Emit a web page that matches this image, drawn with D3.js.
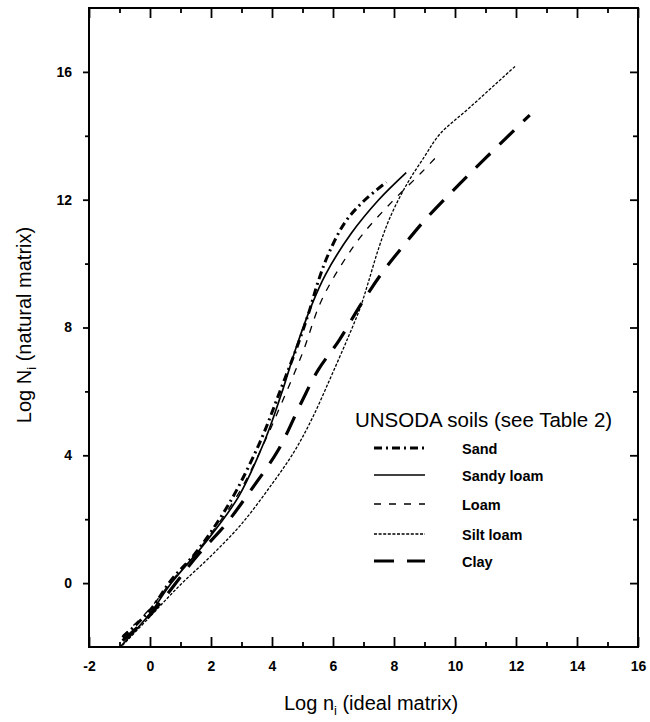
<!DOCTYPE html>
<html>
<head>
<meta charset="utf-8">
<script src="https://cdn.jsdelivr.net/npm/d3@7"></script>
<style>
  body { margin: 0; background: #fff; }
  text { font-family: "Liberation Sans", Arial, sans-serif; fill: #000; }
</style>
</head>
<body>
<div id="chart"></div>
<script>
// Data (log n_i, log N_i)
const sand = [[-0.9,-1.7],[0,-0.85],[0.7,0.1],[1.5,0.95],[2.6,2.5],[3.6,4.4],[4.3,6.1],[4.9,7.6],[5.25,8.6],[5.5,9.4],[5.85,10.3],[6.4,11.3],[7.0,11.95],[7.75,12.55]];
const sandyLoam = [[-0.98,-2],[0,-0.95],[0.7,0.0],[1.8,1.25],[2.9,2.7],[3.77,4.48],[4.3,5.9],[4.8,7.4],[5.3,8.7],[5.75,9.65],[6.6,10.95],[7.5,12.0],[8.4,12.85]];
const loam = [[-0.9,-1.65],[0,-0.8],[0.7,0.05],[1.8,1.3],[2.9,2.8],[3.77,4.45],[4.3,5.6],[5.0,7.2],[5.6,8.8],[6.3,10.0],[7.0,10.95],[7.9,11.9],[8.9,12.85],[9.4,13.35]];
const siltLoam = [[-0.9,-1.95],[0,-1.05],[1,-0.05],[2,0.85],[3,1.85],[4,3.1],[4.75,4.15],[5.34,5.2],[5.93,6.45],[6.5,7.7],[6.9,8.64],[7.15,9.39],[7.48,10.43],[7.85,11.4],[8.4,12.45],[9.0,13.35],[9.5,14.05],[10.5,14.9],[12.0,16.2]];
const clay = [[-0.9,-1.8],[0,-1.0],[1.57,0.88],[2.45,1.8],[3.3,2.9],[4.2,4.16],[4.95,5.63],[5.5,6.65],[6.2,7.6],[6.9,8.7],[7.6,9.7],[8.3,10.55],[9.0,11.35],[10.0,12.35],[11.0,13.3],[12.45,14.65]];

const seriesNames = ["Sand", "Sandy loam", "Loam", "Silt loam", "Clay"];
const seriesData = [sand, sandyLoam, loam, siltLoam, clay];
const xTicks = [-2, 0, 2, 4, 6, 8, 10, 12, 14, 16];
const yTicks = [0, 4, 8, 12, 16];

// line styles per series
const styles = [
  { dash: "8,4,2,4", w: 3 },
  { dash: null, w: 1.7 },
  { dash: "7,8", w: 1.3 },
  { dash: "3,1.6", w: 1.3 },
  { dash: "20,13", w: 3.2 }
];

const margin = { top: 8, right: 12, bottom: 75, left: 89 };
const width = 650 - margin.left - margin.right;
const height = 722 - margin.top - margin.bottom;

const svg = d3.select("#chart")
  .append("svg")
  .attr("width", 650)
  .attr("height", 722)
  .append("g")
  .attr("transform", `translate(${margin.left},${margin.top})`);

const x = d3.scaleLinear().domain([-2, 16]).range([0, width]);
const y = d3.scaleLinear().domain([-2, 18]).range([height, 0]);

// frame
svg.append("rect")
  .attr("width", width).attr("height", height)
  .attr("fill", "none").attr("stroke", "#000").attr("stroke-width", 2);

// bottom axis: ticks inward
const axBottom = svg.append("g")
  .attr("transform", `translate(0,${height})`)
  .call(d3.axisBottom(x).tickValues(xTicks).tickSize(-10).tickPadding(14).tickFormat(d => d));
axBottom.append("g").call(d3.axisBottom(x).tickValues(d3.range(-1, 16, 2)).tickSize(-5).tickFormat(""));

// top axis: ticks inward
const axTop = svg.append("g")
  .call(d3.axisTop(x).tickValues(xTicks).tickSize(-10).tickFormat(""));
axTop.append("g").call(d3.axisTop(x).tickValues(d3.range(-1, 16, 2)).tickSize(-5).tickFormat(""));

// left axis: ticks outward
const axLeft = svg.append("g")
  .call(d3.axisLeft(y).tickValues(yTicks).tickSize(6).tickPadding(11).tickFormat(d => d));
axLeft.append("g").call(d3.axisLeft(y).tickValues([2, 6, 10, 14]).tickSize(4).tickFormat(""));

// right axis: ticks inward
const axRight = svg.append("g")
  .attr("transform", `translate(${width},0)`)
  .call(d3.axisRight(y).tickValues(yTicks).tickSize(-8).tickFormat(""));
axRight.append("g").call(d3.axisRight(y).tickValues([2, 6, 10, 14]).tickSize(-5).tickFormat(""));

svg.selectAll(".domain").remove();
svg.selectAll(".tick line").attr("stroke", "#000").attr("stroke-width", 1.8);
svg.selectAll(".tick text")
  .style("font-size", "14px").style("font-weight", "bold");

// curves
const line = d3.line()
  .x(d => x(d[0]))
  .y(d => y(d[1]))
  .curve(d3.curveCatmullRom.alpha(0.5));

svg.selectAll("path.curve")
  .data(seriesData)
  .enter()
  .append("path")
  .attr("class", "curve")
  .attr("d", line)
  .attr("fill", "none")
  .attr("stroke", "#000")
  .attr("stroke-width", (d, i) => styles[i].w)
  .attr("stroke-dasharray", (d, i) => styles[i].dash);

// axis titles
const xt = svg.append("text")
  .attr("x", 371 - margin.left).attr("y", 710 - margin.top)
  .attr("text-anchor", "middle")
  .style("font-size", "20px");
xt.append("tspan").text("Log n");
xt.append("tspan").attr("dy", 5).style("font-size", "13px").text("i");
xt.append("tspan").attr("dy", -5).text(" (ideal matrix)");

const yt = svg.append("text")
  .attr("transform", `translate(${31 - margin.left},${325 - margin.top}) rotate(-90)`)
  .attr("text-anchor", "middle")
  .style("font-size", "20px");
yt.append("tspan").text("Log N");
yt.append("tspan").attr("dy", 5).style("font-size", "13px").text("i");
yt.append("tspan").attr("dy", -5).text(" (natural matrix)");

// legend
const legend = svg.append("g")
  .attr("transform", `translate(${355 - margin.left},${427 - margin.top})`);

legend.append("text")
  .attr("x", 0).attr("y", 0)
  .style("font-size", "20.5px")
  .text("UNSODA soils (see Table 2)");

const legendY = [21, 48, 77, 107, 134];

const item = legend.selectAll("g.item")
  .data(seriesNames)
  .enter()
  .append("g")
  .attr("class", "item")
  .attr("transform", (d, i) => `translate(0,${legendY[i]})`);

item.append("line")
  .attr("x1", 19).attr("x2", 70)
  .attr("y1", 0).attr("y2", 0)
  .attr("stroke", "#000")
  .attr("stroke-width", (d, i) => styles[i].w)
  .attr("stroke-dasharray", (d, i) => styles[i].dash);

item.append("text")
  .attr("x", 107).attr("y", 6)
  .style("font-size", "14.5px")
  .style("font-weight", "bold")
  .text(d => d);
</script>
</body>
</html>
